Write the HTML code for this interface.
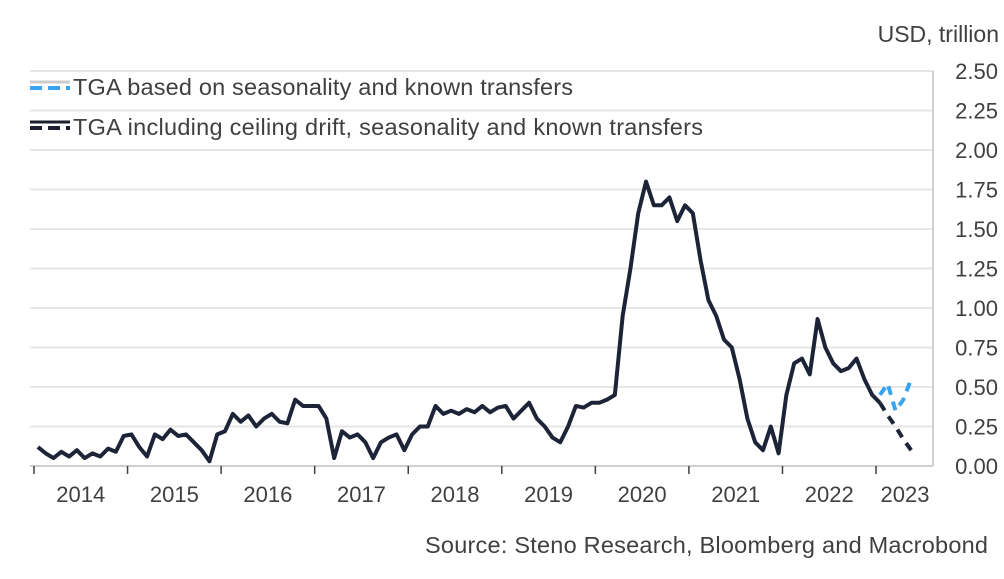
<!DOCTYPE html>
<html><head><meta charset="utf-8"><style>
body{margin:0;background:#fff;}
svg text{font-family:"Liberation Sans",sans-serif;}
</style></head><body>
<svg id="chart" width="1004" height="574" xmlns="http://www.w3.org/2000/svg">
<g id="grid"></g><g id="axes"></g><g id="series"></g>
<text x="999" y="42" text-anchor="end" font-size="23" fill="#404040">USD, trillion</text>
<g>
<line x1="30" y1="88" x2="70" y2="88" stroke="#3aa3f0" stroke-width="4" stroke-dasharray="12,6"/>
<line x1="30" y1="82" x2="70" y2="82" stroke="#cccccc" stroke-width="3"/>
<text x="73" y="95" font-size="23.5" fill="#404040" textLength="500">TGA based on seasonality and known transfers</text>
<line x1="30" y1="128" x2="70" y2="128" stroke="#1c2030" stroke-width="4" stroke-dasharray="12,6"/>
<line x1="30" y1="122" x2="70" y2="122" stroke="#1c2030" stroke-width="3"/>
<text x="73" y="135" font-size="23.5" fill="#404040" textLength="630">TGA including ceiling drift, seasonality and known transfers</text>
</g>
<text x="988" y="553" text-anchor="end" font-size="23.5" fill="#404040" textLength="563">Source: Steno Research, Bloomberg and Macrobond</text>
</svg>
<script>
const yTicks=[0,0.25,0.5,0.75,1.0,1.25,1.5,1.75,2.0,2.25,2.5];
const years=[2014,2015,2016,2017,2018,2019,2020,2021,2022,2023];
const tgaMonthly=[
0.12,0.08,0.05,0.09,0.06,0.10,0.05,0.08,0.06,0.11,0.09,0.19,
0.20,0.12,0.06,0.20,0.17,0.23,0.19,0.20,0.15,0.10,0.03,0.20,
0.22,0.33,0.28,0.32,0.25,0.30,0.33,0.28,0.27,0.42,0.38,0.38,
0.38,0.30,0.05,0.22,0.18,0.20,0.15,0.05,0.15,0.18,0.20,0.10,
0.20,0.25,0.25,0.38,0.33,0.35,0.33,0.36,0.34,0.38,0.34,0.37,
0.38,0.30,0.35,0.40,0.30,0.25,0.18,0.15,0.25,0.38,0.37,0.40,
0.40,0.42,0.45,0.95,1.25,1.60,1.80,1.65,1.65,1.70,1.55,1.65,
1.60,1.30,1.05,0.95,0.80,0.75,0.55,0.30,0.15,0.10,0.25,0.08,
0.45,0.65,0.68,0.58,0.93,0.75,0.65,0.60,0.62,0.68,0.55,0.45,
0.40];
const projMonths=[0,1,2,3,4];
const projCeiling=[0.40,0.32,0.25,0.17,0.10];
const projSeasonal=[0.45,0.52,0.35,0.42,0.55];
const NS="http://www.w3.org/2000/svg";
const x0=34,yrW=93.56,y0=466,pxPerUnit=158,xAxisR=933;
const xs=m=>x0+(m+0.5)*yrW/12;
const ys=v=>y0-v*pxPerUnit;
function mk(t,a,p){const e=document.createElementNS(NS,t);for(const k in a)e.setAttribute(k,a[k]);document.getElementById(p).appendChild(e);return e;}
yTicks.forEach((v,i)=>{
 const g=mk('line',{x1:30,x2:xAxisR,y1:ys(v),y2:ys(v),stroke:i==0?'#cfcfcf':'#e6e6e6','stroke-width':2},'grid');
 
 
 const t=mk('text',{x:998,y:ys(v)+8,'text-anchor':'end','font-size':22,fill:'#404040'},'axes');
 t.textContent=v.toFixed(2);
 
 
});
const ax=mk('line',{x1:xAxisR,x2:xAxisR,y1:ys(2.5),y2:y0,stroke:'#d0d0d0','stroke-width':2},'axes');


years.forEach((yr,i)=>{
 const tk=mk('line',{x1:x0+i*yrW,x2:x0+i*yrW,y1:y0,y2:y0+8,stroke:'#404040','stroke-width':1.5},'axes');
 
 
 const t=mk('text',{x:i<9?x0+(i+0.5)*yrW:905,y:y0+36,'text-anchor':'middle','font-size':22,fill:'#404040'},'axes');
 t.textContent=yr;
 
 
});
const last=tgaMonthly.length-1;
const main=mk('path',{d:tgaMonthly.map((v,i)=>(i?'L':'M')+xs(i)+','+ys(v)).join(''),fill:'none',stroke:'#1e2437','stroke-width':4,'stroke-linejoin':'round'},'series');


const ps=mk('path',{d:projSeasonal.map((v,i)=>(i?'L':'M')+xs(last+projMonths[i])+','+ys(v)).join(''),fill:'none',stroke:'#3aa3f0','stroke-width':4,'stroke-dasharray':'9,7'},'series');


const pc=mk('path',{d:projCeiling.map((v,i)=>(i?'L':'M')+xs(last+projMonths[i])+','+ys(v)).join(''),fill:'none',stroke:'#1e2437','stroke-width':4,'stroke-dasharray':'9,7'},'series');


</script>
</body></html>
